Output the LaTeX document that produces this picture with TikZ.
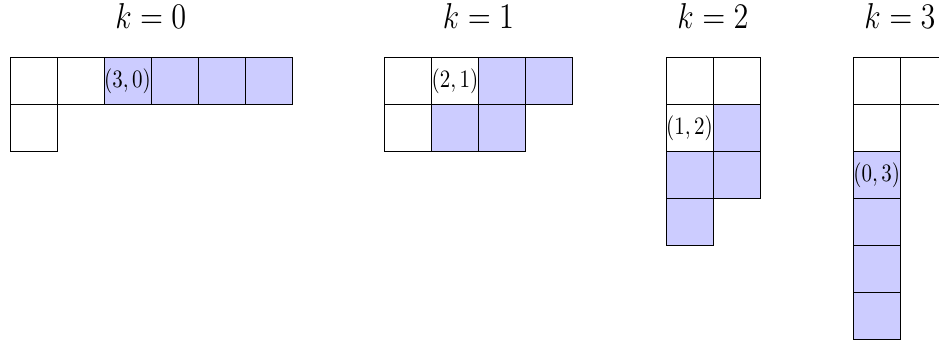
\documentclass[tikz,border=0pt]{standalone}
\usepackage{graphicx}
\tikzset{
  cellbox/.style={draw=black, line width=0.4pt, minimum width=18.8pt, minimum height=18.8pt, inner sep=0pt, outer sep=0pt, anchor=north west},
  wcell/.style={cellbox, fill=white},
  bcell/.style={cellbox, fill=blue!20},
  celllabel/.style={inner sep=0pt, font=\normalsize},
  title/.style={anchor=base, inner sep=0pt, font=\Large}
}
\newcommand\hsq[1]{\scalebox{0.84}[1]{#1}}
\begin{document}
\begin{tikzpicture}[x=0.4pt,y=-0.4pt]
\useasboundingbox (0,0) rectangle (939,341);
\clip (0,0) rectangle (939,341);
% titles
\node[title] (t0) at (150.8,28) {\hsq{$k=0$}};
\node[title] (t1) at (478.5,28) {\hsq{$k=1$}};
\node[title] (t2) at (713,28) {\hsq{$k=2$}};
\node[title] (t3) at (900,28) {\hsq{$k=3$}};
% k = 0
\node[wcell] (a00) at (10,57.7) {};
\node[wcell] (a01) at (57,57.7) {};
\node[bcell] (a02) at (104,57.7) {};
\node[bcell] (a03) at (151,57.7) {};
\node[bcell] (a04) at (198,57.7) {};
\node[bcell] (a05) at (245,57.7) {};
\node[wcell] (a10) at (10,104.7) {};
\node[celllabel] (la) at (a02.center) {\hsq{$(3,0)$}};
% k = 1
\node[wcell] (b00) at (384.5,57.7) {};
\node[wcell] (b01) at (431.5,57.7) {};
\node[bcell] (b02) at (478.5,57.7) {};
\node[bcell] (b03) at (525.5,57.7) {};
\node[wcell] (b10) at (384.5,104.7) {};
\node[bcell] (b11) at (431.5,104.7) {};
\node[bcell] (b12) at (478.5,104.7) {};
\node[celllabel] (lb) at (b01.center) {\hsq{$(2,1)$}};
% k = 2
\node[wcell] (c00) at (666,57.7) {};
\node[wcell] (c01) at (713,57.7) {};
\node[wcell] (c10) at (666,104.7) {};
\node[bcell] (c11) at (713,104.7) {};
\node[bcell] (c20) at (666,151.7) {};
\node[bcell] (c21) at (713,151.7) {};
\node[bcell] (c30) at (666,198.7) {};
\node[celllabel] (lc) at (c10.center) {\hsq{$(1,2)$}};
% k = 3
\node[wcell] (d00) at (853.3,57.7) {};
\node[wcell] (d01) at (900.3,57.7) {};
\node[wcell] (d10) at (853.3,104.7) {};
\node[bcell] (d20) at (853.3,151.7) {};
\node[bcell] (d30) at (853.3,198.7) {};
\node[bcell] (d40) at (853.3,245.7) {};
\node[bcell] (d50) at (853.3,292.7) {};
\node[celllabel] (ld) at (d20.center) {\hsq{$(0,3)$}};
\end{tikzpicture}
\end{document}
